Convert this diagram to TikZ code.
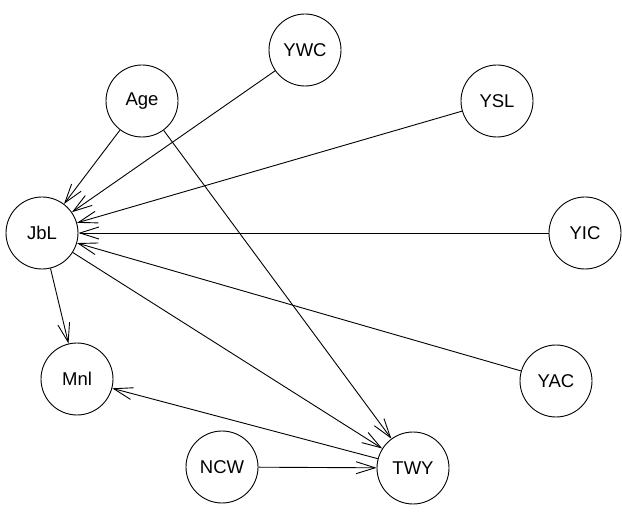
\documentclass[tikz,border=0pt]{standalone}
\usepackage{fontspec}
\setmainfont{Liberation Sans}
\usetikzlibrary{arrows.meta}
\begin{document}
\begin{tikzpicture}[x=1pt,y=-1pt,
  var/.style={circle,draw,line width=0.9pt,minimum size=72pt,inner sep=0pt,
    font=\fontsize{18.5}{18.5}\selectfont},
  edge/.style={line width=0.9pt,
    -{Straight Barb[length=19pt,width=12pt,line width=0.9pt]}}]
\useasboundingbox (0,0) rectangle (622,513);

% variables
\node[var] (YWC) at (305,50)  {YWC};
\node[var] (Age) at (142,101) {Age};
\node[var] (YSL) at (497,101) {YSL};
\node[var] (JbL) at (42,233)  {JbL};
\node[var] (YIC) at (585,233) {YIC};
\node[var] (Mnl) at (77,379)  {Mnl};
\node[var] (YAC) at (556,381) {YAC};
\node[var] (NCW) at (222,467) {NCW};
\node[var] (TWY) at (413,468) {TWY};

% arcs
\draw[edge] (Age) -- (JbL);
\draw[edge] (YWC) -- (JbL);
\draw[edge] (YSL) -- (JbL);
\draw[edge] (YIC) -- (JbL);
\draw[edge] (YAC) -- (JbL);
\draw[edge] (JbL) -- (Mnl);
\draw[edge] (JbL) -- (TWY);
\draw[edge] (Age) -- (TWY);
\draw[edge] (TWY) -- (Mnl);
\draw[edge] (NCW) -- (TWY);
\end{tikzpicture}
\end{document}
